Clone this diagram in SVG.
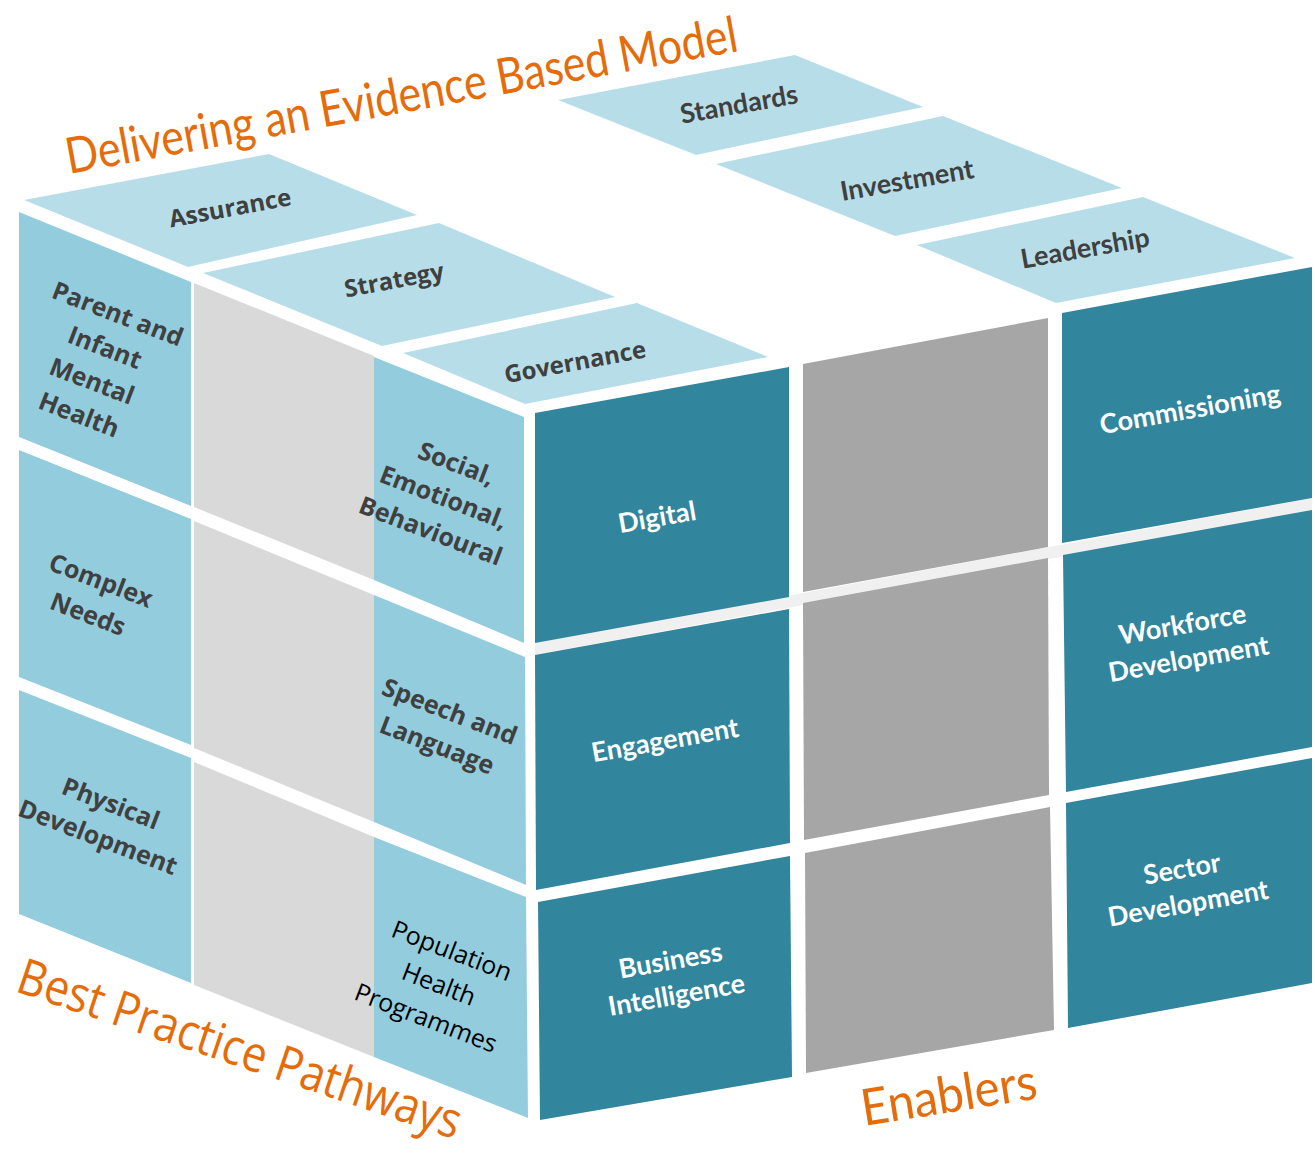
<svg xmlns="http://www.w3.org/2000/svg" width="1315" height="1160" viewBox="0 0 1315 1160">
<style>
.top{fill:#b7dee8}
.side{fill:#93cddd}
.lg{fill:#d9d9d9}
.teal{fill:#31859c}
.dg{fill:#a6a6a6}
.seam{fill:#f0f0f0}
.op{font-family:"Open Sans","Liberation Sans",sans-serif;font-weight:700;fill:#404040;text-anchor:middle}
.op24{font-size:24px}
.op25{font-size:25px}
.reg{font-family:"Open Sans","Liberation Sans",sans-serif;font-weight:400;font-size:25px;fill:#000;text-anchor:middle}
.cb{font-family:Lato,"Liberation Sans",sans-serif;font-weight:700;font-size:27px;fill:#404040;text-anchor:middle}
.wh{font-family:Lato,"Liberation Sans",sans-serif;font-weight:700;font-size:27px;fill:#ffffff;text-anchor:middle}
.ttl{fill:#e46c0a;font-weight:400}
</style>
<rect width="1315" height="1160" fill="#ffffff"/>

<g id="titles">
<text class="ttl" transform="translate(69,174) rotate(-10.4) scale(0.855,1)" font-family="Lato, 'Liberation Sans', sans-serif" font-size="50">Delivering an Evidence Based Model</text>
<text class="ttl" transform="translate(14,991) rotate(18.6) scale(0.87,1)" font-family="'Open Sans', 'Liberation Sans', sans-serif" font-size="50">Best Practice Pathways</text>
<text class="ttl" transform="translate(864,1126) rotate(-9) scale(0.93,1)" font-family="Lato, 'Liberation Sans', sans-serif" font-size="51">Enablers</text>
</g>

<!-- Top face -->
<g id="assurance"><polygon class="top" points="24,200 269,154 417,215 188,267"/>
<text class="op op24" transform="translate(230,208) rotate(-10.5)" y="8.4">Assurance</text></g>
<g id="strategy"><polygon class="top" points="203,273 439,223 615,297 382,346"/>
<text class="op op24" transform="translate(394,280) rotate(-10.5)" y="8.4">Strategy</text></g>
<g id="governance"><polygon class="top" points="403,353 637,303 768,357 525,404"/>
<text class="op op24" transform="translate(575,362) rotate(-10.5)" y="8.4">Governance</text></g>
<g id="standards"><polygon class="top" points="558,100 795,55 923,107 696,155"/>
<text class="cb" transform="translate(739,104) rotate(-10)" y="9.5">Standards</text></g>
<g id="investment"><polygon class="top" points="716,164 943,116 1122,188 895,236"/>
<text class="cb" transform="translate(907,180) rotate(-10)" y="9.5">Investment</text></g>
<g id="leadership"><polygon class="top" points="917,245 1143,197 1295,258 1056,303"/>
<text class="cb" transform="translate(1085,248) rotate(-10)" y="9.5">Leadership</text></g>

<!-- Left face -->
<g id="parent-infant"><polygon class="side" points="19,212 191,282 191,506 19,437"/>
<text class="op op25" transform="translate(98.5,364) rotate(21)"><tspan x="0" y="-45">Parent and</tspan><tspan x="0" y="-9">Infant</tspan><tspan x="0" y="27">Mental</tspan><tspan x="0" y="63">Health</tspan></text></g>
<g id="complex-needs"><polygon class="side" points="19,450 191,519 191,745 19,677"/>
<text class="op op25" transform="translate(94.5,597) rotate(21)"><tspan x="0" y="-9">Complex</tspan><tspan x="0" y="27">Needs</tspan></text></g>
<g id="physical-development"><polygon class="side" points="19,690 191,758 191,983 19,914"/>
<text class="op op25" transform="translate(104.5,820) rotate(21)"><tspan x="0" y="-9">Physical</tspan><tspan x="0" y="27">Development</tspan></text></g>

<g id="left-middle">
<polygon class="lg" points="194,283 374,356 374,580 194,507"/>
<polygon class="lg" points="194,521 374,595 374,822 194,748"/>
<polygon class="lg" points="194,762 374,837 374,1057 194,985"/>
</g>

<g id="social-emotional"><polygon class="side" points="374,357 524,417 524,643 374,580"/>
<text class="op op25" transform="translate(443.7,497) rotate(21)"><tspan x="0" y="-27">Social,</tspan><tspan x="0" y="9">Emotional,</tspan><tspan x="0" y="45">Behavioural</tspan></text></g>
<g id="speech-language"><polygon class="side" points="374,595 525,657 526,885 374,822"/>
<text class="op op25" transform="translate(443.5,728) rotate(21)"><tspan x="0" y="-9">Speech and</tspan><tspan x="0" y="27">Language</tspan></text></g>
<g id="population-health"><polygon class="side" points="374,837 526,897 528,1118 374,1057"/>
<text class="reg" transform="translate(439,984) rotate(21)"><tspan x="0" y="-27">Population</tspan><tspan x="0" y="9">Health</tspan><tspan x="0" y="45">Programmes</tspan></text></g>

<!-- Front face -->
<polygon class="seam" points="535,643 1312,498 1312,510 535,655"/>
<g id="digital"><polygon class="teal" points="535,413 789,367 789,597 535,643"/>
<text class="wh" transform="translate(657,517) rotate(-10)" y="9.5">Digital</text></g>
<g id="engagement"><polygon class="teal" points="535,655 789,609 790,843 536,890"/>
<text class="wh" transform="translate(665,740) rotate(-10)" y="9.5">Engagement</text></g>
<g id="business-intelligence"><polygon class="teal" points="538,902 790,856 792,1077 540,1120"/>
<text class="wh" transform="translate(673.5,977.5) rotate(-10)"><tspan x="0" y="-8">Business</tspan><tspan x="0" y="27">Intelligence</tspan></text></g>

<g id="front-middle">
<polygon class="dg" points="803,364 1048,318 1048,547 803,592"/>
<polygon class="dg" points="803,603 1048,558 1049,795 804,840"/>
<polygon class="dg" points="805,853 1050,807 1054,1030 806,1073"/>
</g>

<g id="commissioning"><polygon class="teal" points="1062,313 1312,267 1312,498 1062,543"/>
<text class="wh" transform="translate(1190,409) rotate(-10)" y="9.5">Commissioning</text></g>
<g id="workforce-development"><polygon class="teal" points="1063,555 1312,510 1312,747 1066,792"/>
<text class="wh" transform="translate(1185.5,641.5) rotate(-10)"><tspan x="0" y="-8">Workforce</tspan><tspan x="0" y="27">Development</tspan></text></g>
<g id="sector-development"><polygon class="teal" points="1066,803 1312,758 1312,983 1068,1028"/>
<text class="wh" transform="translate(1185,886) rotate(-10)"><tspan x="0" y="-8">Sector</tspan><tspan x="0" y="27">Development</tspan></text></g>

<g id="connectors"></g>
</svg>
